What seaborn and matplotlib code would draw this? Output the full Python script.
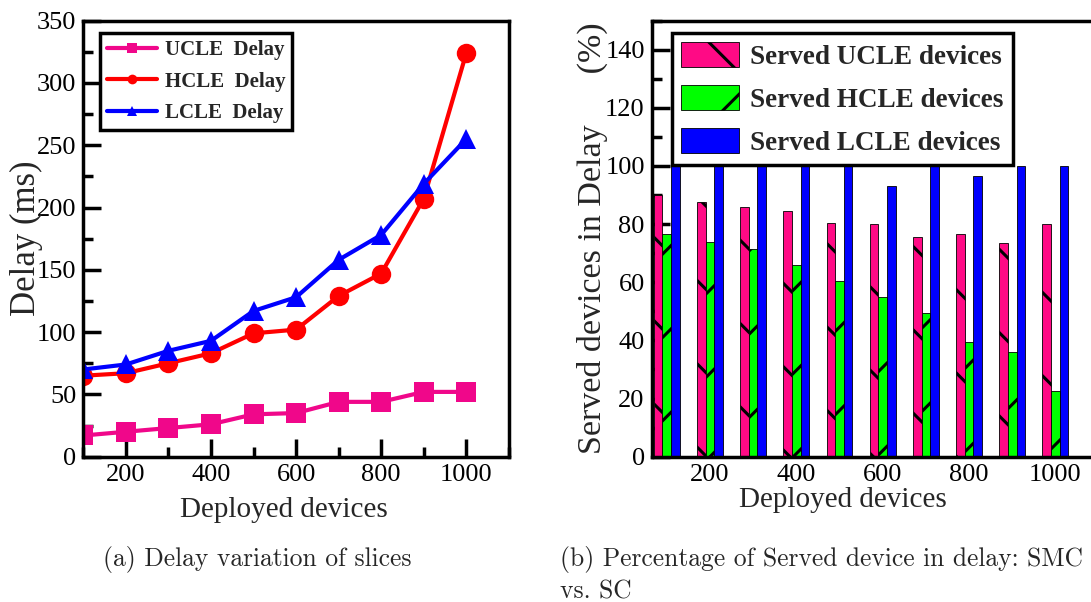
import pandas as pd
import seaborn as sns
import matplotlib.pyplot as plt
from matplotlib.ticker import MultipleLocator

# data
devices = [100, 200, 300, 400, 500, 600, 700, 800, 900, 1000]

# (a) delay of each slice (ms)
ucle_delay = [17, 20, 23, 26, 34, 35, 44, 44, 52, 52]
hcle_delay = [65, 67, 75, 83, 99, 102, 129, 147, 207, 324]
lcle_delay = [70, 74, 85, 93, 117, 128, 158, 178, 219, 255]

# (b) served devices in delay (%)
ucle_served = [90, 87.5, 86, 84.5, 80.5, 80, 75.5, 76.5, 73.5, 80]
hcle_served = [76.5, 74, 71.5, 66, 60.5, 55, 49.5, 39.5, 36, 22.5]
lcle_served = [100, 100, 100, 100, 100, 93, 100, 96.5, 100, 100]

delay_labels = ["UCLE  Delay", "HCLE  Delay", "LCLE  Delay"]
served_labels = ["Served UCLE devices", "Served HCLE devices", "Served LCLE devices"]
x_ticks = [200, 400, 600, 800, 1000]

# hatch spacing is fixed per inch, so draw a small figure at a high dpi
# to get the sparse hatching of the original; S rescales point sizes
DPI = 250
S = 100 / DPI

sns.set_style("ticks")
plt.rcParams["font.family"] = ["Liberation Serif", "DejaVu Serif"]
plt.rcParams["hatch.linewidth"] = 2.2 * S

delay_df = pd.DataFrame({
    "devices": devices * 3,
    "delay": ucle_delay + hcle_delay + lcle_delay,
    "slice": [delay_labels[0]] * 10 + [delay_labels[1]] * 10 + [delay_labels[2]] * 10,
})
served_df = pd.DataFrame({
    "devices": devices * 3,
    "served": ucle_served + hcle_served + lcle_served,
    "slice": [served_labels[0]] * 10 + [served_labels[1]] * 10 + [served_labels[2]] * 10,
})

fig = plt.figure(figsize=(1091 / DPI, 602 / DPI), dpi=DPI)
ax1 = fig.add_axes([0.0764, 0.2414, 0.390, 0.7243])
ax2 = fig.add_axes([0.5973, 0.2414, 0.4097, 0.7243])

# (a) line chart
sns.lineplot(data=delay_df, x="devices", y="delay", hue="slice", style="slice",
             markers=["s", "o", "^"], dashes=False,
             palette=["#f0078a", "#ff0000", "#0000ff"],
             linewidth=3 * S, markersize=14 * S, markeredgewidth=0,
             legend=False, ax=ax1)
ax1.set_xlim(100, 1100)
ax1.set_ylim(0, 350)
ax1.set_xticks(x_ticks)
ax1.xaxis.set_minor_locator(MultipleLocator(100))
ax1.yaxis.set_major_locator(MultipleLocator(50))
ax1.yaxis.set_minor_locator(MultipleLocator(25))
ax1.set_xlabel("Deployed devices", fontsize=21 * S, labelpad=8.3 * S)
ax1.xaxis.label.set_x(0.471)
ax1.set_ylabel("Delay (ms)", fontsize=25 * S, labelpad=-4.5 * S)
ax1.legend(ax1.get_lines()[:3], delay_labels, loc="upper left",
           bbox_to_anchor=(0.039, 0.972), borderaxespad=0,
           prop={"weight": "bold", "size": 15 * S}, handlelength=2.4,
           handletextpad=0.35, markerscale=0.5, labelspacing=0.55,
           fancybox=False, framealpha=1, edgecolor="black", borderpad=0.35)

# (b) grouped bars
sns.barplot(data=served_df, x="devices", y="served", hue="slice",
            native_scale=True, width=0.6, errorbar=None, saturation=1,
            palette=["#ff0a85", "#00ff00", "#0000ff"],
            edgecolor="black", linewidth=0.6 * S, legend=False, ax=ax2)
for container, hatch in zip(ax2.containers, ["\\", "/", ""]):
    for bar in container:
        bar.set_hatch(hatch)
ax2.set_xlim(65, 1100)
ax2.set_ylim(0, 150)
ax2.set_xticks(x_ticks)
ax2.set_xticklabels([str(v) for v in x_ticks])
ax2.xaxis.set_minor_locator(MultipleLocator(100))
ax2.yaxis.set_major_locator(MultipleLocator(20))
ax2.yaxis.set_minor_locator(MultipleLocator(10))
ax2.set_xlabel("Deployed devices", fontsize=21 * S, labelpad=1.3 * S)
ax2.xaxis.label.set_x(0.428)
ax2.set_ylabel("Served devices in Delay      (%)", fontsize=24.5 * S, labelpad=-2 * S)
ax2.legend(ax2.containers, served_labels, loc="upper left",
           bbox_to_anchor=(0.045, 0.972), borderaxespad=0,
           prop={"weight": "bold", "size": 19.5 * S}, handlelength=2.15,
           handleheight=1.05, handletextpad=0.4, labelspacing=0.55,
           fancybox=False, framealpha=1, edgecolor="black", borderpad=0.35)

for ax in [ax1, ax2]:
    for side in ["left", "right", "top", "bottom"]:
        ax.spines[side].set_linewidth(2.5 * S)
        ax.spines[side].set_color("black")
    ax.tick_params(which="both", direction="in", width=2.5 * S, colors="black",
                   labelsize=19 * S, top=False, right=False)
    ax.tick_params(which="major", length=13 * S, pad=5 * S)
    ax.tick_params(which="minor", length=7 * S)
    ax.legend_.get_frame().set_linewidth(2.5 * S)

fig.text(0.236, 0.07, "(a) Delay variation of slices", family="cmr10",
         fontsize=18.4 * S, ha="center", va="center")
fig.text(0.513, 0.093, "(b) Percentage of Served device in delay: SMC\nvs. SC",
         family="cmr10", fontsize=18.4 * S, ha="left", va="top", linespacing=1.35)

fig.savefig("out.png", dpi=DPI)
